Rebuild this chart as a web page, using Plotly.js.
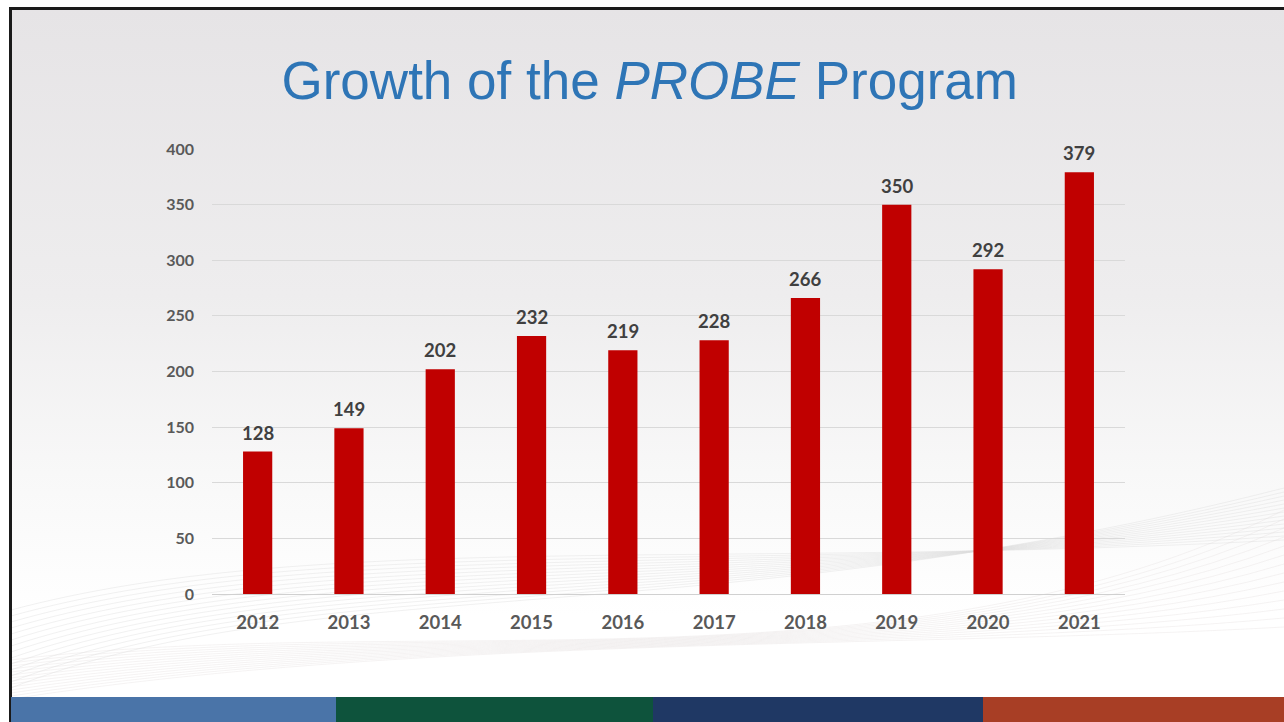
<!DOCTYPE html>
<html>
<head>
<meta charset="utf-8">
<script src="https://cdn.plot.ly/plotly-3.0.1.min.js"></script>
<style>
  html, body { margin:0; padding:0; width:1284px; height:722px; overflow:hidden; background:#ffffff; }
  #slide { position:absolute; left:0; top:0; width:1284px; height:722px; }
  #bg { position:absolute; left:11px; top:10px; width:1273px; height:712px;
        background: linear-gradient(to bottom, #e6e4e6 0%, #eeedee 40%, #f8f8f8 65%, #ffffff 85%); }
  #waves { position:absolute; left:11px; top:10px; width:1273px; height:712px; }
  #frameTop { position:absolute; left:9px; top:7px; width:1275px; height:3px; background:#1a1a1a; }
  #frameLeft { position:absolute; left:9px; top:7px; width:3px; height:715px; background:#1a1a1a; }
  .strip { position:absolute; top:697px; height:25px; }
  #chart { position:absolute; left:0; top:0; width:1284px; height:722px; }
</style>
</head>
<body>
<div id="slide">
  <div id="bg"></div>
  <svg id="waves" viewBox="0 0 1273 712" preserveAspectRatio="none"></svg>
  <div id="frameTop"></div>
  <div id="frameLeft"></div>
  <div class="strip" style="left:11px;width:325px;background:#4a74a8"></div>
  <div class="strip" style="left:336px;width:317px;background:#0e533c"></div>
  <div class="strip" style="left:653px;width:330px;background:#1f3864"></div>
  <div class="strip" style="left:983px;width:301px;background:#a83e25"></div>
  <div id="chart"></div>
</div>
<script>
// ---- data ----
var years = ["2012","2013","2014","2015","2016","2017","2018","2019","2020","2021"];
var participants = [128, 149, 202, 232, 219, 228, 266, 350, 292, 379];
var yTicks = [0, 50, 100, 150, 200, 250, 300, 350, 400];
var chartTitle = "Growth of the <i>PROBE</i> Program";

// faint decorative wave lines in the background
(function(){
  var svg = document.getElementById('waves');
  var s = '';
  for (var i = 0; i < 14; i++) {
    var y0 = 600 + i * 6, y1 = 470 - i * 4;
    s += '<path d="M0 ' + y0 + ' C 300 ' + (520 + i*3) + ', 700 ' + (560 + i*5) + ', 1273 ' + (y1 + 60) + '" stroke="#dcdcdc" stroke-width="1" fill="none" opacity="0.4"/>';
    s += '<path d="M0 ' + (650 + i*3) + ' C 400 ' + (600 + i*2) + ', 900 ' + (690 - i*4) + ', 1273 ' + (500 + i*9) + '" stroke="#e3dcdc" stroke-width="1" fill="none" opacity="0.35"/>';
  }
  svg.innerHTML = s;
})();

var labelFont = { family: 'Lato, "Open Sans", sans-serif', size: 18.5, color: '#404040', weight: 'bold' };

var trace = {
  type: 'bar',
  x: years,
  y: participants,
  marker: { color: '#c00000' },
  hoverinfo: 'x+y'
};

// value labels above each bar (x given as the category index)
var labels = years.map(function(yr, i){
  return { x: i, y: participants[i], xref: 'x', yref: 'y', text: String(participants[i]),
           showarrow: false, yanchor: 'bottom', yshift: 6, font: labelFont };
});

var layout = {
  width: 1284,
  height: 722,
  paper_bgcolor: 'rgba(0,0,0,0)',
  plot_bgcolor: 'rgba(0,0,0,0)',
  margin: { l: 212, r: 159, t: 149, b: 128, pad: 0 },
  bargap: 0.68,
  showlegend: false,
  annotations: labels,
  title: {
    text: chartTitle,
    font: { family: '"Liberation Sans", Arial, sans-serif', size: 53, color: '#2e75b6' },
    x: 0.506, xref: 'container', xanchor: 'center',
    y: 0.889, yref: 'container', yanchor: 'middle'
  },
  xaxis: {
    type: 'category',
    categoryorder: 'array',
    categoryarray: years,
    range: [-0.5, years.length - 0.5],
    showgrid: false,
    showline: false,
    zeroline: false,
    ticks: '',
    ticklabelstandoff: 15,
    tickfont: { family: 'Lato, "Open Sans", sans-serif', size: 18.5, color: '#595959', weight: 'bold' }
  },
  yaxis: {
    range: [0, 400],
    tickmode: 'array',
    tickvals: yTicks,
    ticktext: yTicks.map(String),
    showgrid: true,
    gridcolor: '#d9d9d9',
    gridwidth: 1,
    zeroline: true,
    zerolinecolor: '#d0d0d0',
    zerolinewidth: 1,
    showline: false,
    ticks: '',
    ticklabelstandoff: 17,
    tickfont: { family: 'Lato, "Open Sans", sans-serif', size: 16, color: '#595959', weight: 'bold' }
  }
};

Plotly.newPlot('chart', [trace], layout, { displayModeBar: false, staticPlot: true });
</script>
</body>
</html>
